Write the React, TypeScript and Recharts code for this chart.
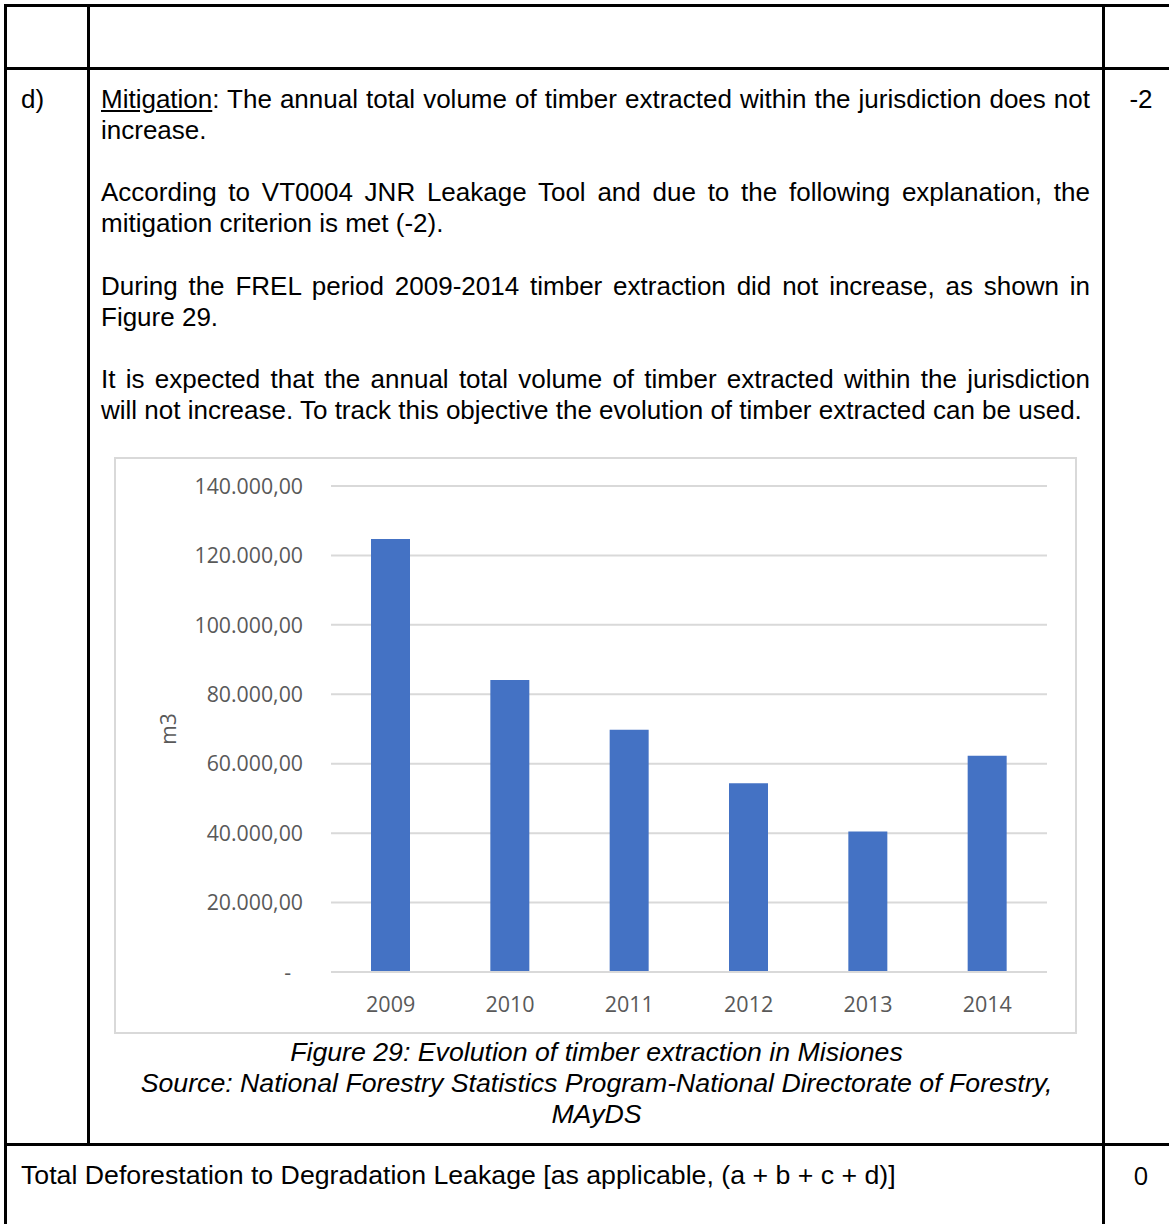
import { BarChart, Bar, XAxis, YAxis, CartesianGrid } from 'recharts'

const years = ['2009', '2010', '2011', '2012', '2013', '2014']
const volumes = [124700, 84100, 69800, 54400, 40500, 62300]
const yTicks = [0, 20000, 40000, 60000, 80000, 100000, 120000, 140000]

const data = years.map((year, i) => ({ year, volume: volumes[i] }))

const bodyFont = "Arial, 'Liberation Sans', Helvetica, sans-serif"
const chartFont = "'Open Sans', sans-serif"

function fmt(v: number) {
  if (v === 0) return '-'
  const s = Math.round(v).toString().replace(/\B(?=(\d{3})+(?!\d))/g, '.')
  return s + ',00'
}

function YTick(props: any) {
  const { x, y, payload } = props
  const zero = payload.value === 0
  return (
    <text
      x={x}
      y={y}
      dx={zero ? -12 : 0}
      dy="0.36em"
      textAnchor="end"
      fill="#595959"
      fontSize={21.3}
      fontFamily={chartFont}
    >
      {fmt(payload.value)}
    </text>
  )
}

function AxisTitle(props: any) {
  const vb = props.viewBox || { x: 0, y: 0, width: 0, height: 0 }
  const cx = vb.x + 52
  const cy = vb.y + vb.height / 2
  return (
    <text
      x={cx}
      y={cy}
      dy="0.36em"
      textAnchor="middle"
      transform={`rotate(-90, ${cx}, ${cy})`}
      fill="#595959"
      fontSize={21}
      fontFamily={chartFont}
    >
      m3
    </text>
  )
}

function TimberChart() {
  return (
    <BarChart
      width={959}
      height={573}
      data={data}
      margin={{ top: 27, right: 28, left: 0, bottom: 0 }}
      barCategoryGap={0}
    >
      <CartesianGrid vertical={false} stroke="#d9d9d9" strokeWidth={2} />
      <XAxis
        dataKey="year"
        height={60}
        axisLine={{ stroke: '#d9d9d9', strokeWidth: 2 }}
        tickLine={false}
        tickSize={0}
        tickMargin={25}
        tick={{ fill: '#595959', fontSize: 21.5, fontFamily: chartFont }}
      />
      <YAxis
        width={215}
        domain={[0, 140000]}
        ticks={yTicks}
        axisLine={false}
        tickLine={false}
        tickSize={0}
        tickMargin={28}
        tick={<YTick />}
        label={{ content: <AxisTitle /> }}
      />
      <Bar dataKey="volume" fill="#4472c4" barSize={39} isAnimationActive={false} />
    </BarChart>
  )
}

const line = (top: number, text: React.ReactNode, justify: boolean) => (
  <div
    style={{
      position: 'absolute',
      left: 101,
      top,
      width: 989,
      lineHeight: '31px',
      textAlign: 'justify',
      textAlignLast: justify ? 'justify' : 'left',
    }}
  >
    {text}
  </div>
)

export default function App() {
  const rule = (left: number, top: number, width: number, height: number) => (
    <div style={{ position: 'absolute', left, top, width, height, background: '#000' }} />
  )

  return (
    <div
      style={{
        position: 'absolute',
        left: 0,
        top: 0,
        width: 1169,
        height: 1224,
        overflow: 'hidden',
        background: '#fff',
        fontFamily: bodyFont,
        fontSize: 26,
        color: '#000',
      }}
    >
      {/* table rules */}
      {rule(4, 4, 1165, 3)}
      {rule(4, 4, 3, 1220)}
      {rule(87, 4, 3, 1142)}
      {rule(1102, 4, 3, 1220)}
      {rule(4, 67, 1165, 3)}
      {rule(4, 1143, 1165, 3)}

      <div style={{ position: 'absolute', left: 21, top: 83.5, lineHeight: '31px' }}>d)</div>
      <div style={{ position: 'absolute', left: 1113, top: 83.5, width: 56, textAlign: 'center', lineHeight: '31px' }}>-2</div>

      {line(83.5, <><span style={{ textDecoration: 'underline' }}>Mitigation</span>: The annual total volume of timber extracted within the jurisdiction does not</>, true)}
      {line(114.5, 'increase.', false)}
      {line(176.5, 'According to VT0004 JNR Leakage Tool and due to the following explanation, the', true)}
      {line(207.5, 'mitigation criterion is met (-2).', false)}
      {line(270.5, 'During the FREL period 2009-2014 timber extraction did not increase, as shown in', true)}
      {line(301.5, 'Figure 29.', false)}
      {line(363.5, 'It is expected that the annual total volume of timber extracted within the jurisdiction', true)}
      {line(394.5, 'will not increase. To track this objective the evolution of timber extracted can be used.', false)}

      {/* chart */}
      <div
        style={{
          position: 'absolute',
          left: 114,
          top: 457,
          width: 963,
          height: 577,
          border: '2px solid #d9d9d9',
          boxSizing: 'border-box',
          background: '#fff',
        }}
      >
        <TimberChart />
      </div>

      {/* caption */}
      <div
        style={{
          position: 'absolute',
          left: 101,
          top: 1036.5,
          width: 991,
          textAlign: 'center',
          fontStyle: 'italic',
          fontSize: 26.7,
          lineHeight: '31px',
        }}
      >
        <div>Figure 29: Evolution of timber extraction in Misiones</div>
        <div>Source: National Forestry Statistics Program-National Directorate of Forestry,</div>
        <div>MAyDS</div>
      </div>

      <div style={{ position: 'absolute', left: 21, top: 1159.5, fontSize: 26.7, lineHeight: '31px' }}>
        Total Deforestation to Degradation Leakage [as applicable, (a + b + c + d)]
      </div>
      <div
        style={{
          position: 'absolute',
          left: 1113,
          top: 1159.5,
          width: 56,
          textAlign: 'center',
          lineHeight: '31px',
          fontFamily: chartFont,
        }}
      >
        0
      </div>
    </div>
  )
}
